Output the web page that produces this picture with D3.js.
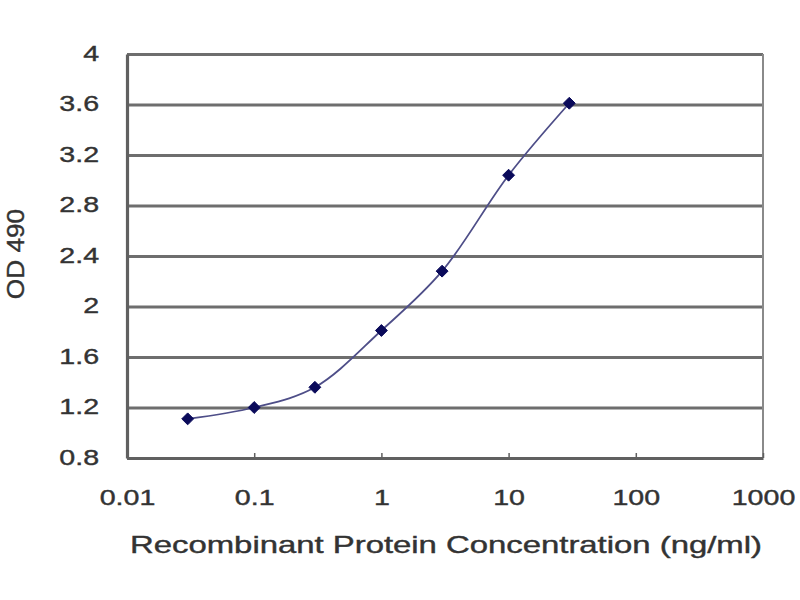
<!DOCTYPE html>
<html>
<head>
<meta charset="utf-8">
<script src="https://cdn.jsdelivr.net/npm/d3@7"></script>
<style>
  html, body { margin: 0; padding: 0; background: #fff; }
  svg { display: block; }
  text { font-family: "Liberation Sans", Arial, sans-serif; fill: #333; stroke: #333; stroke-width: 0.4px; }
</style>
</head>
<body>
<svg id="chart" width="800" height="600"></svg>
<script>
// Data
const concentrations = [0.03, 0.1, 0.3, 1, 3, 10, 30];
const odValues = [1.11, 1.20, 1.36, 1.81, 2.28, 3.04, 3.61];
const xTickValues = [0.01, 0.1, 1, 10, 100, 1000];
const xTickLabels = ["0.01", "0.1", "1", "10", "100", "1000"];
const yTickValues = [0.8, 1.2, 1.6, 2, 2.4, 2.8, 3.2, 3.6, 4];
const yTickLabels = ["0.8", "1.2", "1.6", "2", "2.4", "2.8", "3.2", "3.6", "4"];
const xTitle = "Recombinant Protein Concentration (ng/ml)";
const yTitle = "OD 490";

(function () {
const svg = d3.select("#chart");
const mLeft = 127, mRight = 763, mTop = 54, mBottom = 458;

const x = d3.scaleLog().domain([0.01, 1000]).range([mLeft, mRight]);
const y = d3.scaleLinear().domain([0.8, 4]).range([mBottom, mTop]);

// Gridlines
const grid = svg.append("g")
  .attr("transform", `translate(${mLeft},0)`)
  .call(d3.axisLeft(y).tickValues(yTickValues).tickSize(-(mRight - mLeft)).tickFormat(""));
grid.select(".domain").remove();
grid.selectAll("line").attr("stroke", "#6e6e6e").attr("stroke-width", 2.8);

// Right border
svg.append("line")
  .attr("x1", mRight).attr("x2", mRight).attr("y1", mTop).attr("y2", mBottom)
  .attr("stroke", "#8a8a8a").attr("stroke-width", 2);

// Y axis
const yAxis = svg.append("g")
  .attr("transform", `translate(${mLeft},0)`)
  .call(d3.axisLeft(y).tickValues(yTickValues).tickSize(0)
    .tickFormat((d, i) => yTickLabels[i]));
yAxis.select(".domain").attr("stroke", "#606060").attr("stroke-width", 3.2);
yAxis.selectAll("text")
  .attr("x", -21.5).attr("dy", "0.28em")
  .attr("transform", "scale(1.3,1)")
  .style("font-size", "22px")
  .style("font-family", "'Liberation Sans', Arial, sans-serif")
  .style("fill", "#333");

// X axis
const xAxis = svg.append("g")
  .attr("transform", `translate(0,${mBottom})`)
  .call(d3.axisBottom(x).tickValues(xTickValues).tickSizeInner(-5).tickSizeOuter(0)
    .tickFormat((d, i) => xTickLabels[i]));
xAxis.select(".domain").attr("stroke", "#606060").attr("stroke-width", 3.2);
xAxis.selectAll(".tick line").attr("stroke", "#606060").attr("stroke-width", 1.5);
xAxis.selectAll("text")
  .attr("y", 47).attr("dy", 0)
  .attr("transform", "scale(1.3,1)")
  .style("font-size", "22px")
  .style("font-family", "'Liberation Sans', Arial, sans-serif")
  .style("fill", "#333");

// Axis titles
svg.append("text")
  .attr("transform", `translate(446,553) scale(1.37,1)`)
  .attr("text-anchor", "middle")
  .style("font-size", "24px")
  .text(xTitle);

svg.append("text")
  .attr("transform", `translate(24,254) rotate(-90) scale(1.14,1)`)
  .attr("text-anchor", "middle")
  .style("font-size", "23px")
  .text(yTitle);

// Curve
const pts = concentrations.map((c, i) => [c, odValues[i]]);
const line = d3.line()
  .x(d => x(d[0])).y(d => y(d[1]))
  .curve(d3.curveCatmullRom.alpha(0.5));
svg.append("path")
  .datum(pts)
  .attr("d", line)
  .attr("fill", "none")
  .attr("stroke", "#4e4e88")
  .attr("stroke-width", 1.8);

// Markers (diamonds)
svg.append("g").selectAll("path")
  .data(pts)
  .join("path")
  .attr("transform", d => `translate(${x(d[0])},${y(d[1])})`)
  .attr("d", d3.symbol(d3.symbolDiamond2, 90)())
  .attr("fill", "#0a0a5a")
  .attr("stroke", "#0a0a5a")
  .attr("stroke-width", 1);
})();
</script>
</body>
</html>
